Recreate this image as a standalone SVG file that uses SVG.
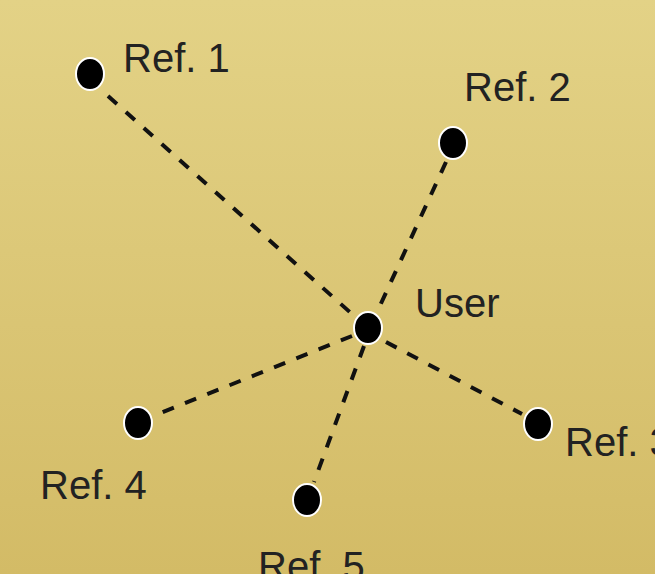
<svg xmlns="http://www.w3.org/2000/svg" width="655" height="574" viewBox="0 0 655 574">
<defs>
<linearGradient id="bg" x1="0" y1="0" x2="0" y2="1">
<stop offset="0" stop-color="#e3d286"/>
<stop offset="1" stop-color="#d3bb66"/>
</linearGradient>
</defs>
<style>
.lk{stroke:#111;stroke-width:4;stroke-dasharray:12 12;fill:none}
.dot{fill:#000;stroke:#fff;stroke-width:2}
.lb{font-family:"Liberation Sans",Arial,sans-serif;font-size:40px;fill:#222}
</style>
<rect width="655" height="574" fill="url(#bg)"/>
<g id="connectors">
<line class="lk" x1="108" y1="96" x2="352" y2="314"/>
<line class="lk" x1="446" y1="162" x2="378" y2="310"/>
<line class="lk" x1="386" y1="342" x2="522" y2="414"/>
<line class="lk" x1="352" y1="336" x2="158" y2="414"/>
<line class="lk" x1="364" y1="346" x2="314" y2="482"/>
</g>
<g id="user"><ellipse class="dot" cx="368" cy="328" rx="14" ry="16"/><text class="lb" x="415" y="317">User</text></g>
<g id="ref1"><ellipse class="dot" cx="90" cy="74" rx="14" ry="16"/><text class="lb" x="123" y="72">Ref. 1</text></g>
<g id="ref2"><ellipse class="dot" cx="453" cy="143" rx="14" ry="16"/><text class="lb" x="464" y="101">Ref. 2</text></g>
<g id="ref3"><ellipse class="dot" cx="538" cy="424" rx="14" ry="16"/><text class="lb" x="565" y="456">Ref. 3</text></g>
<g id="ref4"><ellipse class="dot" cx="138" cy="423" rx="14" ry="16"/><text class="lb" x="40" y="499">Ref. 4</text></g>
<g id="ref5"><ellipse class="dot" cx="307" cy="500" rx="14" ry="16"/><text class="lb" x="258" y="580">Ref. 5</text></g>
</svg>
